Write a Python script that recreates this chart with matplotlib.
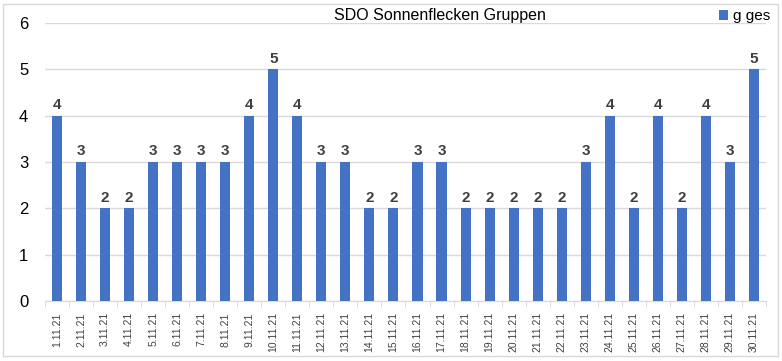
import matplotlib
matplotlib.use("Agg")
import matplotlib.pyplot as plt
from matplotlib.patches import Rectangle

dates = [f"{d}.11.21" for d in range(1, 31)]
values = [4, 3, 2, 2, 3, 3, 3, 3, 4, 5, 4, 3, 3, 2, 2, 3, 3, 2, 2, 2, 2, 2, 3, 4, 2, 4, 2, 4, 3, 5]
series_name = "g ges"
title = "SDO Sonnenflecken Gruppen"

plt.rcParams['font.family'] = ['Liberation Sans', 'DejaVu Sans']

fig = plt.figure(figsize=(7.82, 3.61), dpi=100)
fig.patches.append(Rectangle((0.004, 0.015), 0.991, 0.975, transform=fig.transFigure,
                             fill=False, edgecolor='#d9d9d9', linewidth=1))
ax = fig.add_axes([0.0575, 0.166, 0.922, 0.770])

x = range(len(dates))
bars = ax.bar(x, values, width=0.42, color='#4472C4', label=series_name, zorder=3)
for xi, v in zip(x, values):
    ax.text(xi, v + 0.08, str(v), ha='center', va='bottom', fontsize=11,
            fontweight='bold', color='#404040')

ax.set_xlim(-0.5, len(dates) - 0.5)
ax.set_ylim(0, 6)
ax.set_yticks(range(0, 7))
ax.yaxis.grid(True, color='#d9d9d9', linewidth=1, zorder=0)
ax.set_xticks(list(x))
ax.set_xticklabels(dates, rotation=90, fontsize=7.5, color='#404040')
ax.set_xticks([i + 0.5 for i in range(-1, len(dates))], minor=True)
ax.tick_params(axis='x', which='major', length=0, pad=8)
ax.tick_params(axis='x', which='minor', length=4, color='#d9d9d9')
ax.tick_params(axis='y', length=0, labelsize=12, colors='#000000', pad=12)
for s in ['top', 'right', 'left']:
    ax.spines[s].set_visible(False)
ax.spines['bottom'].set_color('#d9d9d9')

fig.text(0.563, 0.958, title, ha='center', va='center', fontsize=11.5, color='#000000')
leg = fig.legend(handles=[bars], labels=[series_name], loc='center right',
                 bbox_to_anchor=(0.985, 0.955), frameon=False,
                 fontsize=11, handlelength=0.6, handleheight=0.6, handletextpad=0.3,
                 borderpad=0, borderaxespad=0)

fig.savefig('out.png', dpi=100, facecolor='white')
